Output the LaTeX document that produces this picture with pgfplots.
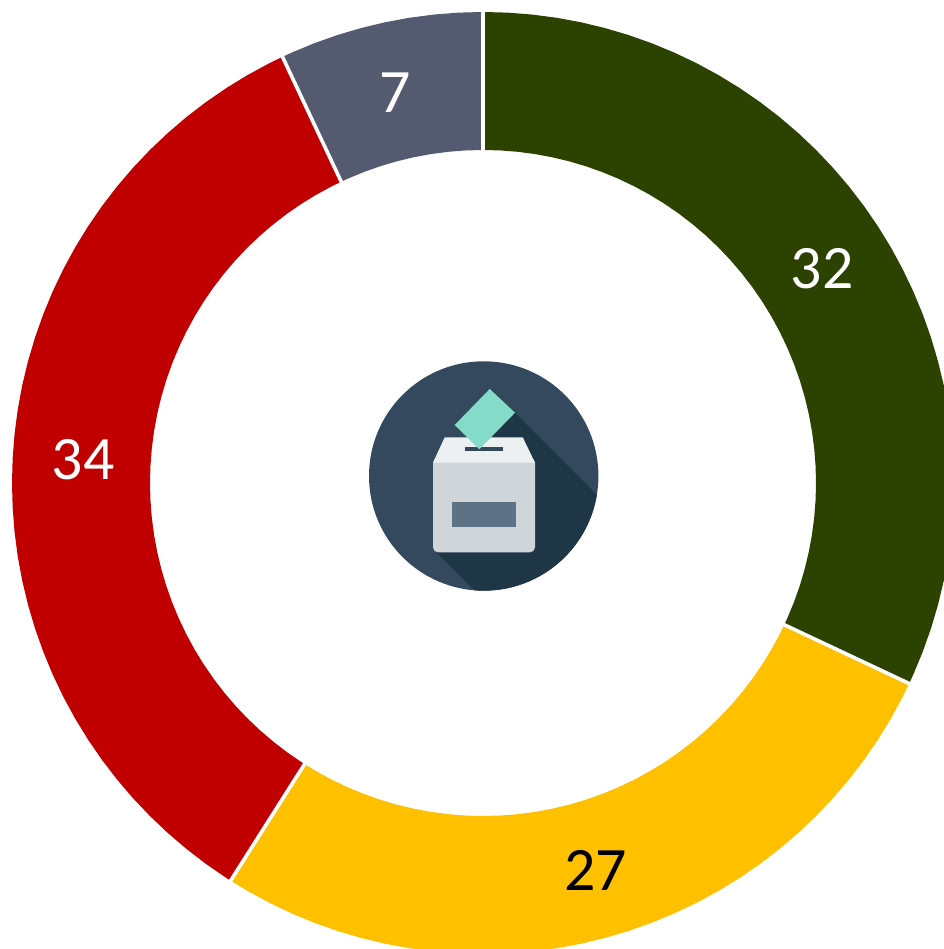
\documentclass[border=0pt]{standalone}
\usepackage{pgfplots}
\pgfplotsset{compat=1.18}
\usepackage{fontspec}
\setmainfont{Carlito}
\definecolor{cGreen}{HTML}{2B4200}
\definecolor{cYellow}{HTML}{FFC000}
\definecolor{cRed}{HTML}{C00000}
\definecolor{cGray}{HTML}{545A70}
\definecolor{iconBg}{HTML}{34495E}
\definecolor{iconShadow}{HTML}{1F3647}
\definecolor{iconBox}{HTML}{D0D5D9}
\definecolor{iconLid}{HTML}{ECF0F1}
\definecolor{iconWin}{HTML}{5D7285}
\definecolor{iconBallot}{HTML}{84DCC8}
\begin{document}
\begin{tikzpicture}
\begin{axis}[
  width=944bp, height=949bp, scale only axis,
  xmin=-483, xmax=461, ymin=-466, ymax=483,
  hide axis, clip=true, axis line style={draw=none}
]
\path (axis cs:-483,-466) rectangle (axis cs:461,483);
% Wedges in polar data: (angle, radius). 32 / 27 / 34 / 7 per cent, clockwise from the top.
\addplot[data cs=polar, fill=cGreen, draw=none] coordinates {
(90,471)(87,471)(84,471)(81,471)(78,471)(75,471)(72,471)(69,471)(66,471)(63,471)(60,471)(57,471)(54,471)(51,471)(48,471)(45,471)(42,471)(39,471)(36,471)(33,471)(30,471)(27,471)(24,471)(21,471)(18,471)(15,471)(12,471)(9,471)(6,471)(3,471)(0,471)(-3,471)(-6,471)(-9,471)(-12,471)(-15,471)(-18,471)(-21,471)(-24,471)(-25.2,471)
(-25.2,333)(-24,333)(-21,333)(-18,333)(-15,333)(-12,333)(-9,333)(-6,333)(-3,333)(0,333)(3,333)(6,333)(9,333)(12,333)(15,333)(18,333)(21,333)(24,333)(27,333)(30,333)(33,333)(36,333)(39,333)(42,333)(45,333)(48,333)(51,333)(54,333)(57,333)(60,333)(63,333)(66,333)(69,333)(72,333)(75,333)(78,333)(81,333)(84,333)(87,333)(90,333)
} -- cycle;
\addplot[data cs=polar, fill=cYellow, draw=none] coordinates {
(-25.2,471)(-27,471)(-30,471)(-33,471)(-36,471)(-39,471)(-42,471)(-45,471)(-48,471)(-51,471)(-54,471)(-57,471)(-60,471)(-63,471)(-66,471)(-69,471)(-72,471)(-75,471)(-78,471)(-81,471)(-84,471)(-87,471)(-90,471)(-93,471)(-96,471)(-99,471)(-102,471)(-105,471)(-108,471)(-111,471)(-114,471)(-117,471)(-120,471)(-122.4,471)
(-122.4,333)(-120,333)(-117,333)(-114,333)(-111,333)(-108,333)(-105,333)(-102,333)(-99,333)(-96,333)(-93,333)(-90,333)(-87,333)(-84,333)(-81,333)(-78,333)(-75,333)(-72,333)(-69,333)(-66,333)(-63,333)(-60,333)(-57,333)(-54,333)(-51,333)(-48,333)(-45,333)(-42,333)(-39,333)(-36,333)(-33,333)(-30,333)(-27,333)(-25.2,333)
} -- cycle;
\addplot[data cs=polar, fill=cRed, draw=none] coordinates {
(-122.4,471)(-123,471)(-126,471)(-129,471)(-132,471)(-135,471)(-138,471)(-141,471)(-144,471)(-147,471)(-150,471)(-153,471)(-156,471)(-159,471)(-162,471)(-165,471)(-168,471)(-171,471)(-174,471)(-177,471)(-180,471)(-183,471)(-186,471)(-189,471)(-192,471)(-195,471)(-198,471)(-201,471)(-204,471)(-207,471)(-210,471)(-213,471)(-216,471)(-219,471)(-222,471)(-225,471)(-228,471)(-231,471)(-234,471)(-237,471)(-240,471)(-243,471)(-244.8,471)
(-244.8,333)(-243,333)(-240,333)(-237,333)(-234,333)(-231,333)(-228,333)(-225,333)(-222,333)(-219,333)(-216,333)(-213,333)(-210,333)(-207,333)(-204,333)(-201,333)(-198,333)(-195,333)(-192,333)(-189,333)(-186,333)(-183,333)(-180,333)(-177,333)(-174,333)(-171,333)(-168,333)(-165,333)(-162,333)(-159,333)(-156,333)(-153,333)(-150,333)(-147,333)(-144,333)(-141,333)(-138,333)(-135,333)(-132,333)(-129,333)(-126,333)(-123,333)(-122.4,333)
} -- cycle;
\addplot[data cs=polar, fill=cGray, draw=none] coordinates {
(-244.8,471)(-246,471)(-249,471)(-252,471)(-255,471)(-258,471)(-261,471)(-264,471)(-267,471)(-270,471)
(-270,333)(-267,333)(-264,333)(-261,333)(-258,333)(-255,333)(-252,333)(-249,333)(-246,333)(-244.8,333)
} -- cycle;
% white separators
\addplot[data cs=polar, white, line width=3.6bp] coordinates {(90,325)(90,480)};
\addplot[data cs=polar, white, line width=3.6bp] coordinates {(-25.2,325)(-25.2,480)};
\addplot[data cs=polar, white, line width=3.6bp] coordinates {(-122.4,325)(-122.4,480)};
\addplot[data cs=polar, white, line width=3.6bp] coordinates {(-244.8,325)(-244.8,480)};
% value labels
\node[white, inner sep=0pt, anchor=center, font=\fontsize{62}{62}\selectfont] at (axis cs:339,214) {32};
\node[black, inner sep=0pt, anchor=center, font=\fontsize{62}{62}\selectfont] at (axis cs:112.5,-387) {27};
\node[white, inner sep=0pt, anchor=center, font=\fontsize{62}{62}\selectfont] at (axis cs:-400,23) {34};
\node[white, inner sep=0pt, anchor=center, font=\fontsize{62}{62}\selectfont] at (axis cs:-88,390) {7};
% ballot-box icon
\fill[iconBg] (axis cs:0.7,7) circle[radius=114.7bp];
\begin{scope}
\clip (axis cs:0.7,7) circle[radius=114.7bp];
\fill[iconShadow] (axis cs:31.7,70.3) -- (axis cs:181.7,-79.7) -- (axis cs:181.7,-246) -- (axis cs:130,-246) -- (axis cs:-47.3,-68.7) -- (axis cs:-3.7,33.7) -- cycle;
\end{scope}
\fill[iconBox, rounded corners=5bp] (axis cs:-50,25) -- (axis cs:-50,-69.3) -- (axis cs:52,-69.3) -- (axis cs:52,25) -- cycle;
\fill[iconLid] (axis cs:-38.3,45.7) -- (axis cs:39.7,45.7) -- (axis cs:52,20.3) -- (axis cs:-50,20.3) -- cycle;
\fill[iconBg] (axis cs:-18.3,36) rectangle (axis cs:20.3,32.3);
\fill[iconBallot] (axis cs:6.7,94) -- (axis cs:32,70.3) -- (axis cs:-3.7,33.7) -- (axis cs:-28.3,58) -- cycle;
\fill[iconWin] (axis cs:-31,-18.7) rectangle (axis cs:33,-44);
\end{axis}
\end{tikzpicture}
\end{document}
